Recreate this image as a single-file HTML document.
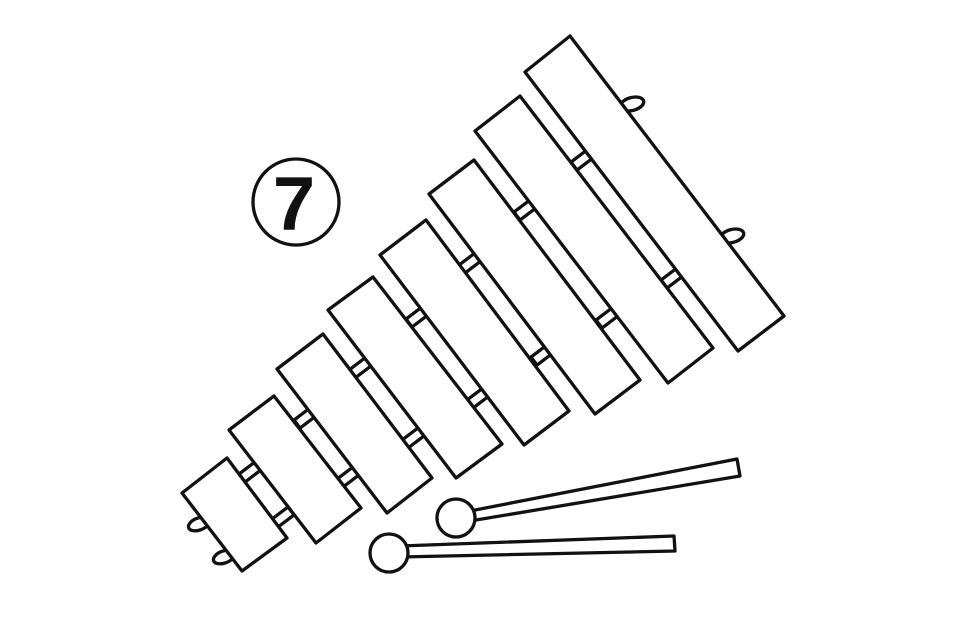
<!DOCTYPE html>
<html><head><style>html,body{margin:0;padding:0;background:#fff;}svg{display:block;}</style></head>
<body>
<svg width="960" height="640" viewBox="0 0 960 640" xmlns="http://www.w3.org/2000/svg">
<g fill="#fff" stroke="#111" stroke-width="3.3" stroke-linejoin="round">
  <!-- pegs -->
  <ellipse cx="199" cy="524" rx="11" ry="6" transform="rotate(-20 199 524)"/>
  <ellipse cx="224" cy="557" rx="11" ry="6" transform="rotate(-20 224 557)"/>
  <ellipse cx="632" cy="104" rx="12" ry="6.5" transform="rotate(-15 632 104)"/>
  <ellipse cx="732" cy="236" rx="12" ry="6.5" transform="rotate(-15 732 236)"/>
  <!-- rail pieces -->
  <g>
    <rect x="-5" y="-10" width="10" height="20" transform="translate(250,472) rotate(53)"/>
    <rect x="-5" y="-10" width="10" height="20" transform="translate(283,517) rotate(53)"/>
    <rect x="-5" y="-10" width="10" height="20" transform="translate(305,418) rotate(53)"/>
    <rect x="-5" y="-10" width="10" height="20" transform="translate(348,477) rotate(53)"/>
    <rect x="-5" y="-10" width="10" height="20" transform="translate(360,368) rotate(53)"/>
    <rect x="-5" y="-10" width="10" height="20" transform="translate(413,438) rotate(53)"/>
    <rect x="-5" y="-10" width="10" height="20" transform="translate(417,317) rotate(53)"/>
    <rect x="-5" y="-10" width="10" height="20" transform="translate(478,398) rotate(53)"/>
    <rect x="-5" y="-10" width="10" height="20" transform="translate(470,263) rotate(53)"/>
    <rect x="-5" y="-10" width="10" height="20" transform="translate(542,355) rotate(53)"/>
    <rect x="-5" y="-10" width="10" height="20" transform="translate(525,210) rotate(53)"/>
    <rect x="-5" y="-10" width="10" height="20" transform="translate(607,318) rotate(53)"/>
    <rect x="-5" y="-10" width="10" height="20" transform="translate(582,160) rotate(53)"/>
    <rect x="-5" y="-10" width="10" height="20" transform="translate(672,278) rotate(53)"/>
  </g>
  <!-- bars -->
  <polygon points="182,493 227,458 287,538 242,571"/>
  <polygon points="229,430 274,396 361,508 316,543"/>
  <polygon points="277,369 323,334 432,478 387,513"/>
  <polygon points="328,310 373,277 502,444 456,478"/>
  <polygon points="380,255 426,220 569,411 524,445"/>
  <polygon points="429,194 474,160 640,380 595,414"/>
  <polygon points="475,131 520,96 713,348 668,383"/>
  <polygon points="525,72 570,36 784,316 738,351"/>
  <!-- mallets -->
  <polygon points="470,511 737,459 740,476 470,521"/>
  <circle cx="456" cy="518" r="19"/>
  <polygon points="400,546 674,536 675,551 400,557"/>
  <circle cx="389" cy="553" r="19"/>
  <!-- number -->
  <circle cx="296" cy="202" r="43"/>
</g>
<text x="294" y="230" text-anchor="middle" font-family="Liberation Sans, sans-serif" font-weight="bold" font-size="76" fill="#111">7</text>
</svg>
</body></html>
